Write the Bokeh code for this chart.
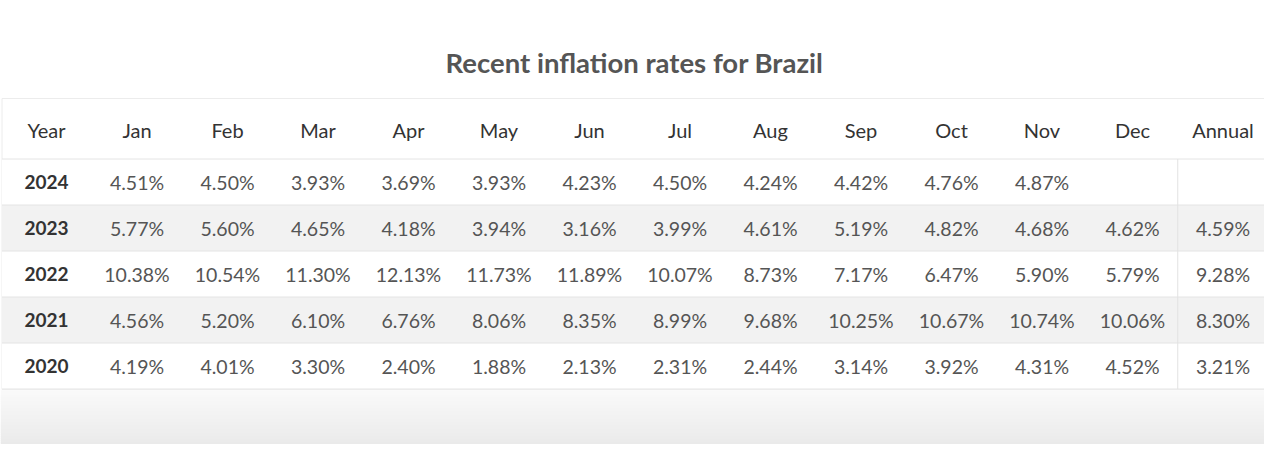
from bokeh.plotting import figure
from bokeh.models import Range1d, ColumnDataSource
from bokeh.core.properties import value
from bokeh.embed import file_html
from bokeh.resources import INLINE

title = "Recent inflation rates for Brazil"
columns = ["Year", "Jan", "Feb", "Mar", "Apr", "May", "Jun", "Jul", "Aug",
           "Sep", "Oct", "Nov", "Dec", "Annual"]
years = ["2024", "2023", "2022", "2021", "2020"]
rate_2024 = [4.51, 4.50, 3.93, 3.69, 3.93, 4.23, 4.50, 4.24, 4.42, 4.76, 4.87, None, None]
rate_2023 = [5.77, 5.60, 4.65, 4.18, 3.94, 3.16, 3.99, 4.61, 5.19, 4.82, 4.68, 4.62, 4.59]
rate_2022 = [10.38, 10.54, 11.30, 12.13, 11.73, 11.89, 10.07, 8.73, 7.17, 6.47, 5.90, 5.79, 9.28]
rate_2021 = [4.56, 5.20, 6.10, 6.76, 8.06, 8.35, 8.99, 9.68, 10.25, 10.67, 10.74, 10.06, 8.30]
rate_2020 = [4.19, 4.01, 3.30, 2.40, 1.88, 2.13, 2.31, 2.44, 3.14, 3.92, 4.31, 4.52, 3.21]
rates = [rate_2024, rate_2023, rate_2022, rate_2021, rate_2020]

FONT = value("Lato")

# layout (picture pixel coordinates)
X0, CW = 46.0, 90.5
HEAD_TOP, HEAD_BOT = 98.0, 158.5
ROW_H = 46.0
TL, TR = 1.5, 1268.0

p = figure(width=1264, height=444, output_backend="svg", toolbar_location=None,
           x_range=Range1d(0, 1264), y_range=Range1d(444, 0), min_border=0)
p.axis.visible = False
p.grid.visible = False
p.outline_line_color = None
p.background_fill_color = "white"
p.border_fill_color = "white"

n_rows = len(years)
table_bot = HEAD_BOT + ROW_H * n_rows

# grey gradient at the bottom of the page
n_b = 28
b_top, b_bot, b_col = [], [], []
step = (444 - table_bot) / n_b
for k in range(n_b):
    t0 = table_bot + k * step
    b_top.append(t0)
    b_bot.append(t0 + step + 0.5)
    f = (k + 0.5) / n_b
    g = int(round(250 - (250 - 234) * f))
    b_col.append("#%02x%02x%02x" % (g, g, g))
p.quad(left=0, right=1264, top=b_top, bottom=b_bot, fill_color=b_col, line_color=None)

# table background
p.quad(left=TL, right=TR, top=HEAD_TOP, bottom=table_bot, fill_color="white",
       line_color="#ececec", line_width=1)

# row stripes
row_top = [HEAD_BOT + ROW_H * r for r in range(n_rows)]
row_bot = [t + ROW_H for t in row_top]
row_fill = ["white" if r % 2 == 0 else "#f2f2f2" for r in range(n_rows)]
p.quad(left=TL, right=TR, top=row_top, bottom=row_bot, fill_color=row_fill, line_color=None)

# horizontal rules
rules = [HEAD_BOT] + row_bot
p.segment(x0=TL, x1=TR, y0=rules, y1=rules, line_color="#e4e4e4", line_width=1)

# vertical rule before Annual column
x_div = X0 + CW * (len(columns) - 1.5)
p.segment(x0=[x_div], x1=[x_div], y0=[HEAD_BOT], y1=[table_bot], line_color="#e2e2e2", line_width=1)

# title
p.text(x=[634], y=[62], text=[title], text_font=FONT, text_font_size="27.5px",
       text_font_style="bold", text_color="#555555", text_align="center",
       text_baseline="middle")

# header
hx = [X0 + CW * i for i in range(len(columns))]
p.text(x=hx, y=[(HEAD_TOP + HEAD_BOT) / 2 + 1] * len(columns), text=columns, text_font=FONT,
       text_font_size="20px", text_color="#333333", text_align="center",
       text_baseline="middle")

# year labels
ry = [t + ROW_H / 2 for t in row_top]
p.text(x=[X0] * n_rows, y=ry, text=years, text_font=FONT, text_font_size="19px",
       text_font_style="bold", text_color="#333333", text_align="center",
       text_baseline="middle")

# values
vx, vy, vt = [], [], []
for r, row in enumerate(rates):
    for c, v in enumerate(row):
        if v is None:
            continue
        vx.append(X0 + CW * (c + 1))
        vy.append(ry[r])
        vt.append("%.2f%%" % v)
src = ColumnDataSource(dict(x=vx, y=vy, t=vt))
p.text(x="x", y="y", text="t", source=src, text_font=FONT, text_font_size="19.5px",
       text_color="#555555", text_align="center", text_baseline="middle")

open("out.html", "w").write(file_html(p, INLINE))
